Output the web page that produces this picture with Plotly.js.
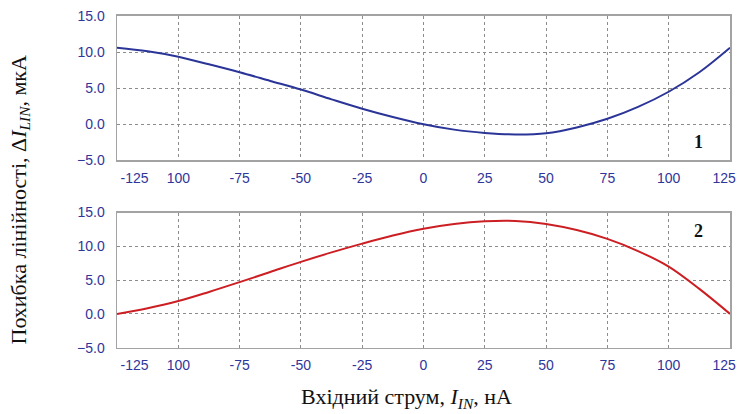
<!DOCTYPE html>
<html>
<head>
<meta charset="utf-8">
<script src="https://cdn.plot.ly/plotly-3.0.1.min.js"></script>
<style>html,body{margin:0;padding:0;background:#fff;}#chart{width:739px;height:414px;}</style>
</head>
<body>
<div id="chart"></div>
<script>
// Input current, nA
var current = [-125, -112.5, -100, -87.5, -75, -62.5, -50, -37.5, -25, -12.5, 0, 12.5, 25, 37.5, 50, 62.5, 75, 87.5, 100, 112.5, 125];
// Curve 1 linearity error, uA
var error1 = [10.6, 10.1, 9.35, 8.3, 7.2, 6.0, 4.8, 3.45, 2.15, 1.0, 0.0, -0.75, -1.2, -1.42, -1.25, -0.45, 0.75, 2.4, 4.5, 7.2, 10.6];
// Curve 2 linearity error, uA
var error2 = [0.0, 0.85, 1.9, 3.25, 4.7, 6.2, 7.7, 9.1, 10.4, 11.6, 12.6, 13.3, 13.7, 13.75, 13.3, 12.4, 11.1, 9.3, 7.0, 3.7, 0.0];
var xTickVals = [-125, -100, -75, -50, -25, 0, 25, 50, 75, 100, 125];
var xTickText = ["\u00a0\u00a0\u00a0\u00a0\u00a0\u00a0\u00a0\u00a0\u00a0-125", "100", "-75", "-50", "-25", "0", "25", "50", "75", "100", "125\u00a0\u00a0\u00a0"];
var yTickVals = [-5, 0, 5, 10, 15];
var curveLabels = ["1", "2"];

var tickFont = {family: "Liberation Sans, Arial, sans-serif", size: 14, color: "#2F3699"};
var gridColor = "#8c8c8c";
var frameColor = "#a3a3a3";

function xAxis(anchor) {
  return {
    anchor: anchor, range: [-125, 125], tickmode: "array", tickvals: xTickVals, ticktext: xTickText,
    showgrid: true, gridcolor: gridColor, griddash: "dot", gridwidth: 1,
    showline: true, linecolor: frameColor, linewidth: 1.5, mirror: true,
    zeroline: false, ticks: "", tickfont: tickFont, ticklabelstandoff: 4,
    ticklabeloverflow: "allow", fixedrange: true
  };
}
function yAxis(anchor, domain) {
  return {
    anchor: anchor, domain: domain, range: [-5, 15], tickmode: "array", tickvals: yTickVals,
    tickformat: ".1f", showgrid: true, gridcolor: gridColor, griddash: "dot", gridwidth: 1,
    showline: true, linecolor: frameColor, linewidth: 1.5, mirror: true,
    zeroline: false, ticks: "", tickfont: tickFont, ticklabelstandoff: 8,
    ticklabeloverflow: "allow", fixedrange: true
  };
}

var traces = [
  {x: current, y: error1, xaxis: "x", yaxis: "y", type: "scatter", mode: "lines",
   line: {color: "#2B3598", width: 2, shape: "spline", smoothing: 1}, hoverinfo: "skip"},
  {x: current, y: error2, xaxis: "x2", yaxis: "y2", type: "scatter", mode: "lines",
   line: {color: "#CC1F24", width: 2, shape: "spline", smoothing: 1}, hoverinfo: "skip"}
];

var serif = "Liberation Serif, Times New Roman, serif";
var layout = {
  width: 739, height: 414,
  margin: {l: 117.3, r: 9.3, t: 0, b: 0},
  paper_bgcolor: "#ffffff", plot_bgcolor: "#ffffff",
  showlegend: false,
  xaxis: xAxis("y"),
  yaxis: yAxis("x", [0.6128, 0.9614]),
  xaxis2: xAxis("y2"),
  yaxis2: yAxis("x2", [0.1601, 0.4867]),
  annotations: [
    {xref: "paper", yref: "paper", x: 0.949, y: 0.658, text: "<b>" + curveLabels[0] + "</b>", showarrow: false,
     font: {family: serif, size: 18, color: "#111"}, xanchor: "center", yanchor: "middle"},
    {xref: "paper", yref: "paper", x: 0.948, y: 0.442, text: "<b>" + curveLabels[1] + "</b>", showarrow: false,
     font: {family: serif, size: 18, color: "#111"}, xanchor: "center", yanchor: "middle"},
    {xref: "paper", yref: "paper", x: -0.159, y: 0.517, textangle: -90,
     text: "Похибка лінійності, Δ<i>I</i><sub><i>LIN</i></sub>, мкА", showarrow: false,
     font: {family: serif, size: 22, color: "#111"}, xanchor: "center", yanchor: "middle"},
    {xref: "paper", yref: "paper", x: 0.4726, y: 0.0386,
     text: "Вхідний струм, <i>I</i><sub><i>IN</i></sub>, нА", showarrow: false,
     font: {family: serif, size: 22, color: "#111"}, xanchor: "center", yanchor: "middle"}
  ]
};

Plotly.newPlot("chart", traces, layout, {staticPlot: true, displayModeBar: false});
</script>
</body>
</html>
